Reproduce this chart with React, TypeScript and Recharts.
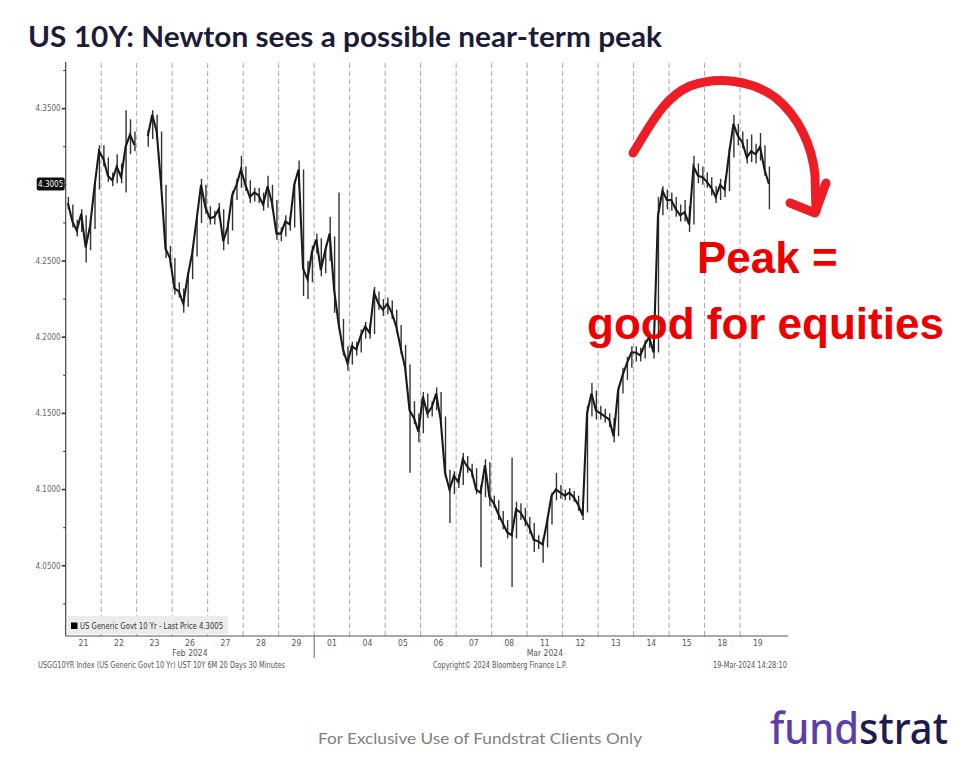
import React from 'react';
import { ComposedChart, Line, Bar, XAxis, YAxis, ReferenceLine } from 'recharts';

// ---- data (30-minute Bloomberg bars, resampled to 8 bars per trading day) ----
const dayLabels = ['21', '22', '23', '26', '27', '28', '29', '01', '04', '05', '06', '07', '08', '11', '12', '13', '14', '15', '18', '19'];
const monthLabels: Record<number, string> = { 3: 'Feb 2024', 13: 'Mar 2024' };
const monthStartDay = 7;
const barsPerDay = 8;
const lastPrice = 4.3005;

const closeYield: (number | null)[] = [
  4.288, 4.276, 4.270, 4.281, 4.259, 4.273, 4.299, 4.322, // 21
  4.317, 4.306, 4.303, 4.312, 4.305, 4.325, 4.333, 4.326, // 22
  null, null, 4.332, 4.346, 4.335, 4.300, 4.258, 4.252, // 23
  4.232, 4.230, 4.222, 4.240, 4.255, 4.277, 4.300, 4.285, // 26
  4.278, 4.279, 4.284, 4.263, 4.272, 4.293, 4.300, 4.310, // 27
  4.300, 4.292, 4.295, 4.293, 4.287, 4.299, 4.288, 4.268, // 28
  4.268, 4.276, 4.274, 4.300, 4.310, 4.245, 4.238, 4.256, // 29
  4.264, 4.244, 4.257, 4.268, 4.231, 4.209, 4.192, 4.183, // 01
  4.194, 4.192, 4.201, 4.207, 4.203, 4.229, 4.222, 4.218, // 04
  4.222, 4.216, 4.207, 4.193, 4.180, 4.152, 4.147, 4.138, // 05
  4.161, 4.150, 4.154, 4.163, 4.146, 4.111, 4.100, 4.109, // 06
  4.105, 4.120, 4.115, 4.112, 4.100, 4.098, 4.116, 4.095, // 07
  4.091, 4.084, 4.078, 4.072, 4.070, 4.087, 4.085, 4.080, // 08
  4.075, 4.067, 4.066, 4.064, 4.079, 4.096, 4.100, 4.098, // 11
  4.096, 4.098, 4.095, 4.090, 4.083, 4.150, 4.163, 4.152, // 12
  4.150, 4.148, 4.146, 4.135, 4.165, 4.175, 4.183, 4.190, // 13
  4.190, 4.188, 4.195, 4.200, 4.190, 4.280, 4.296, 4.290, // 14
  4.290, 4.284, 4.280, 4.282, 4.274, 4.312, 4.306, 4.305, // 15
  4.302, 4.298, 4.292, 4.300, 4.297, 4.320, 4.340, 4.332, // 18
  4.328, 4.318, 4.322, 4.320, 4.325, 4.310, 4.3005, null, // 19
];

const highYield: (number | null)[] = [
  4.292, 4.287, 4.277, 4.284, 4.280, 4.276, 4.302, 4.326,
  4.326, 4.318, 4.308, 4.320, 4.314, 4.349, 4.343, 4.335,
  null, null, 4.336, 4.349, 4.346, 4.335, 4.300, 4.260,
  4.252, 4.236, 4.232, 4.243, 4.258, 4.280, 4.304, 4.300,
  4.286, 4.283, 4.288, 4.284, 4.276, 4.296, 4.304, 4.319,
  4.312, 4.303, 4.298, 4.298, 4.295, 4.306, 4.300, 4.290,
  4.272, 4.280, 4.279, 4.303, 4.316, 4.310, 4.250, 4.260,
  4.268, 4.265, 4.260, 4.279, 4.266, 4.295, 4.212, 4.194,
  4.197, 4.197, 4.205, 4.210, 4.209, 4.233, 4.230, 4.225,
  4.226, 4.224, 4.218, 4.208, 4.195, 4.182, 4.158, 4.150,
  4.164, 4.163, 4.158, 4.167, 4.164, 4.148, 4.113, 4.112,
  4.110, 4.124, 4.122, 4.117, 4.114, 4.103, 4.120, 4.118,
  4.096, 4.093, 4.086, 4.080, 4.121, 4.092, 4.091, 4.088,
  4.082, 4.078, 4.070, 4.068, 4.082, 4.098, 4.111, 4.103,
  4.100, 4.101, 4.099, 4.096, 4.091, 4.155, 4.170, 4.165,
  4.155, 4.153, 4.150, 4.147, 4.168, 4.180, 4.187, 4.194,
  4.194, 4.193, 4.198, 4.204, 4.201, 4.292, 4.299, 4.297,
  4.295, 4.292, 4.287, 4.290, 4.286, 4.319, 4.314, 4.312,
  4.308, 4.305, 4.299, 4.304, 4.303, 4.325, 4.346, 4.340,
  4.335, 4.330, 4.333, 4.327, 4.334, 4.326, 4.312, null,
];

const lowYield: (number | null)[] = [
  4.284, 4.272, 4.266, 4.269, 4.249, 4.257, 4.271, 4.297,
  4.312, 4.302, 4.299, 4.301, 4.301, 4.295, 4.320, 4.322,
  null, null, 4.325, 4.330, 4.330, 4.298, 4.252, 4.246,
  4.228, 4.226, 4.216, 4.220, 4.238, 4.253, 4.275, 4.281,
  4.274, 4.274, 4.278, 4.257, 4.261, 4.270, 4.290, 4.298,
  4.296, 4.288, 4.289, 4.288, 4.283, 4.285, 4.284, 4.264,
  4.263, 4.266, 4.270, 4.272, 4.298, 4.227, 4.225, 4.236,
  4.255, 4.240, 4.242, 4.250, 4.216, 4.205, 4.188, 4.178,
  4.182, 4.188, 4.190, 4.199, 4.199, 4.202, 4.218, 4.214,
  4.215, 4.212, 4.203, 4.189, 4.176, 4.111, 4.143, 4.131,
  4.137, 4.147, 4.148, 4.152, 4.142, 4.108, 4.078, 4.097,
  4.101, 4.103, 4.111, 4.108, 4.097, 4.049, 4.095, 4.089,
  4.088, 4.080, 4.074, 4.068, 4.036, 4.068, 4.080, 4.076,
  4.071, 4.059, 4.061, 4.052, 4.062, 4.077, 4.093, 4.094,
  4.093, 4.093, 4.092, 4.086, 4.080, 4.085, 4.148, 4.146,
  4.146, 4.144, 4.141, 4.131, 4.135, 4.163, 4.172, 4.180,
  4.184, 4.184, 4.186, 4.193, 4.186, 4.190, 4.280, 4.284,
  4.283, 4.279, 4.276, 4.276, 4.269, 4.274, 4.301, 4.300,
  4.298, 4.293, 4.288, 4.290, 4.292, 4.296, 4.318, 4.326,
  4.324, 4.314, 4.315, 4.314, 4.316, 4.306, 4.284, null,
];

const yMajor = [4.05, 4.1, 4.15, 4.2, 4.25, 4.3, 4.35];
const yMinor = [4.025, 4.075, 4.125, 4.175, 4.225, 4.275, 4.325, 4.375];
const yLabelHiddenBehindLast = 4.3;
const yDomain: [number, number] = [4.0039, 4.3806];
const xDomainEndDays = 20.35;

// ---- derived table for recharts ----
const data = closeYield.map((c, i) => ({
  x: i + 0.5,
  close: c,
  range: highYield[i] == null || lowYield[i] == null ? null : [lowYield[i], highYield[i]],
}));
const xTicks = dayLabels.map((_, d) => d * barsPerDay + barsPerDay / 2);
const daySeparators = dayLabels.slice(1).map((_, k) => (k + 1) * barsPerDay);
const yTicks = [...yMajor, ...yMinor].sort((a, b) => a - b);

const NARROW = "'Liberation Sans Narrow', 'DejaVu Sans Condensed', 'Liberation Sans', Arial, sans-serif";

const YTick = (props: any) => {
  const { x, y, payload } = props;
  const v = payload.value as number;
  const major = yMajor.some((m) => Math.abs(m - v) < 1e-6);
  const hidden = Math.abs(v - yLabelHiddenBehindLast) < 1e-6;
  return (
    <g>
      <line x1={x - (major ? 4 : 2.5)} x2={x} y1={y} y2={y} stroke="#333" strokeWidth={major ? 1.6 : 1} />
      {major && !hidden && (
        <text x={x - 5} y={y + 2.8} textAnchor="end" fontSize={8} fill="#666" fontFamily={NARROW}>
          {v.toFixed(4)}
        </text>
      )}
    </g>
  );
};

const XTick = (props: any) => {
  const { x, y, payload } = props;
  const d = Math.floor(payload.value / barsPerDay);
  return (
    <g>
      <text x={x} y={y + 10} textAnchor="middle" fontSize={8.5} fill="#555" fontFamily={NARROW}>
        {dayLabels[d]}
      </text>
      {monthLabels[d] && (
        <text x={x} y={y + 20} textAnchor="middle" fontSize={8.5} fill="#555" fontFamily={NARROW}>
          {monthLabels[d]}
        </text>
      )}
    </g>
  );
};

const LastPriceLabel = (props: any) => {
  const vb = props.viewBox || {};
  const x = vb.x ?? 0;
  const y = vb.y ?? 0;
  return (
    <g>
      <rect x={x - 29} y={y - 6.5} width={28} height={13} rx={2} fill="#111" />
      <text x={x - 15} y={y + 3} textAnchor="middle" fontSize={8} fill="#fff" fontFamily={NARROW}>
        {lastPrice.toFixed(4)}
      </text>
    </g>
  );
};

export default function App() {
  return (
    <div style={{ position: 'absolute', left: 0, top: 0, width: 960, height: 759, background: '#fff', overflow: 'hidden' }}>
      <ComposedChart
        width={960}
        height={759}
        data={data}
        margin={{ top: 62, right: 172, bottom: 93, left: 5.7 }}
      >
        <XAxis
          dataKey="x"
          type="number"
          domain={[0, xDomainEndDays * barsPerDay]}
          allowDataOverflow
          ticks={xTicks}
          interval={0}
          tick={<XTick />}
          tickLine={false}
          tickSize={0}
          tickMargin={0}
          height={30}
          axisLine={{ stroke: '#555', strokeWidth: 1.2 }}
        />
        <YAxis
          type="number"
          domain={yDomain}
          allowDataOverflow
          ticks={yTicks}
          interval={0}
          tick={<YTick />}
          tickLine={false}
          tickSize={0}
          tickMargin={0}
          width={60}
          axisLine={{ stroke: '#444', strokeWidth: 1.2 }}
        />
        {daySeparators.map((s) => (
          <ReferenceLine key={s} x={s} stroke="#a8a8a8" strokeDasharray="5 3" strokeWidth={1} />
        ))}
        <ReferenceLine
          segment={[
            { x: monthStartDay * barsPerDay, y: yDomain[0] },
            { x: monthStartDay * barsPerDay, y: 3.9895 },
          ]}
          ifOverflow="visible"
          stroke="#666"
          strokeWidth={1}
        />
        <Bar dataKey="range" barSize={1.4} fill="#333" isAnimationActive={false} />
        <Line
          dataKey="close"
          type="linear"
          stroke="#1a1a1a"
          strokeWidth={2.1}
          dot={false}
          activeDot={false}
          connectNulls={false}
          isAnimationActive={false}
        />
        <ReferenceLine y={lastPrice} stroke="none" ifOverflow="visible" label={<LastPriceLabel />} />
      </ComposedChart>

      <svg width={960} height={759} style={{ position: 'absolute', left: 0, top: 0, pointerEvents: 'none' }}>
        <text x={28} y={47} fontSize={28} fontWeight={700} fill="#1c1c3a" fontFamily="Lato, 'Open Sans', sans-serif" textLength={634} lengthAdjust="spacingAndGlyphs">
          US 10Y: Newton sees a possible near-term peak
        </text>

        {/* legend box */}
        <rect x={68} y={616} width={160} height={18} fill="#ececec" />
        <rect x={71} y={622.5} width={6.5} height={6.5} fill="#000" />
        <text x={80} y={629} fontSize={8} fill="#333" fontFamily={NARROW} textLength={143} lengthAdjust="spacingAndGlyphs">
          US Generic Govt 10 Yr - Last Price 4.3005
        </text>

        {/* Bloomberg footer */}
        <text x={38} y={668} fontSize={8} fill="#555" fontFamily={NARROW} textLength={247} lengthAdjust="spacingAndGlyphs">
          USGG10YR Index (US Generic Govt 10 Yr) UST 10Y 6M 20 Days 30 Minutes
        </text>
        <text x={433} y={668} fontSize={8} fill="#555" fontFamily={NARROW} textLength={134} lengthAdjust="spacingAndGlyphs">
          Copyright© 2024 Bloomberg Finance L.P.
        </text>
        <text x={713} y={668} fontSize={8} fill="#555" fontFamily={NARROW} textLength={74} lengthAdjust="spacingAndGlyphs">
          19-Mar-2024 14:28:10
        </text>

        {/* red annotation */}
        <path
          d="M 633 153 C 648 130, 662 98, 690 86 C 718 76, 752 80, 776 98 C 798 116, 812 145, 815 175 L 816 211"
          fill="none"
          stroke="#ee1c24"
          strokeWidth={9}
          strokeLinecap="round"
          strokeLinejoin="round"
        />
        <path d="M 790 203 L 815 213 L 826 183" fill="none" stroke="#ee1c24" strokeWidth={9} strokeLinecap="round" strokeLinejoin="round" />
        <text x={697} y={273} fontSize={44} fontWeight={700} fill="#ee0000" fontFamily="'Liberation Sans', Arial, sans-serif">
          Peak =
        </text>
        <text x={587} y={339} fontSize={44} fontWeight={700} fill="#ee0000" fontFamily="'Liberation Sans', Arial, sans-serif">
          good for equities
        </text>

        {/* page footer */}
        <text x={318} y={744} fontSize={16} fill="#808080" fontFamily="Lato, 'Open Sans', sans-serif" textLength={324} lengthAdjust="spacingAndGlyphs">
          For Exclusive Use of Fundstrat Clients Only
        </text>
        <text x={770} y={744} fontSize={44} fontWeight={500} fontFamily="'Noto Sans', 'Open Sans', sans-serif" textLength={178} lengthAdjust="spacingAndGlyphs">
          <tspan fill="#5b3ea6">fund</tspan>
          <tspan fill="#1d1b4f">strat</tspan>
        </text>
      </svg>
    </div>
  );
}
